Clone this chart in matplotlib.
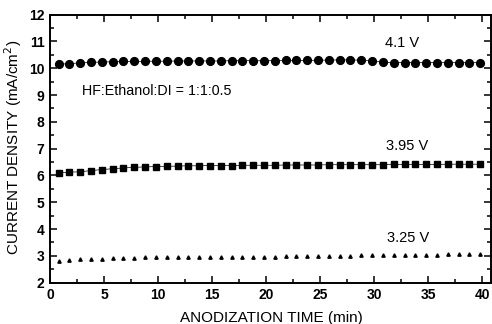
import matplotlib
matplotlib.use("Agg")
import matplotlib.pyplot as plt
from matplotlib.ticker import MultipleLocator

plt.rcParams["font.family"] = ["Liberation Sans", "DejaVu Sans"]

# anodization time (min), one reading per minute
time = [0.8, 1.8, 2.8, 3.8, 4.8, 5.8, 6.8, 7.8, 8.8, 9.8,
        10.8, 11.8, 12.8, 13.8, 14.8, 15.8, 16.8, 17.8, 18.8, 19.8,
        20.8, 21.8, 22.8, 23.8, 24.8, 25.8, 26.8, 27.8, 28.8, 29.8,
        30.8, 31.8, 32.8, 33.8, 34.8, 35.8, 36.8, 37.8, 38.8, 39.8]

j_410 = [10.15, 10.17, 10.20, 10.22, 10.23, 10.24, 10.25, 10.25, 10.26, 10.26,
         10.26, 10.27, 10.27, 10.27, 10.27, 10.27, 10.28, 10.28, 10.28, 10.28,
         10.28, 10.29, 10.29, 10.29, 10.30, 10.30, 10.31, 10.31, 10.30, 10.28,
         10.22, 10.21, 10.21, 10.21, 10.21, 10.21, 10.21, 10.21, 10.21, 10.21]

j_395 = [6.10, 6.12, 6.14, 6.18, 6.22, 6.25, 6.28, 6.30, 6.32, 6.33,
         6.34, 6.35, 6.36, 6.36, 6.37, 6.37, 6.37, 6.38, 6.38, 6.38,
         6.38, 6.39, 6.39, 6.39, 6.39, 6.40, 6.40, 6.40, 6.40, 6.40,
         6.40, 6.41, 6.41, 6.41, 6.41, 6.41, 6.42, 6.42, 6.42, 6.42]

j_325 = [2.80, 2.84, 2.87, 2.88, 2.90, 2.91, 2.92, 2.93, 2.94, 2.94,
         2.95, 2.95, 2.95, 2.96, 2.96, 2.96, 2.96, 2.97, 2.97, 2.97,
         2.97, 2.98, 2.98, 2.99, 3.00, 3.00, 3.01, 3.01, 3.02, 3.02,
         3.02, 3.03, 3.03, 3.04, 3.05, 3.05, 3.06, 3.07, 3.07, 3.08]

fig = plt.figure(figsize=(4.92, 3.24), dpi=100)
ax = fig.add_axes([0.1016, 0.1275, 0.8964, 0.8275])

ax.plot(time, j_410, "-o", color="black", lw=0.5, ms=5.6)
ax.plot(time, j_395, "-s", color="black", lw=0.5, ms=5.0)
ax.plot(time, j_325, "^", color="black", ms=2.4, lw=0)

txt = dict(fontsize=10.5, ha="center", va="center")
ax.text(32.6, 10.93, "4.1 V", **txt)
ax.text(33.0, 7.08, "3.95 V", **txt)
ax.text(33.1, 3.66, "3.25 V", **txt)
ax.text(3.0, 9.16, "HF:Ethanol:DI = 1:1:0.5", fontsize=10.3, ha="left", va="center")

ax.set_xlim(0, 40.8)
ax.set_ylim(2, 12)
ax.xaxis.set_major_locator(MultipleLocator(5))
ax.xaxis.set_minor_locator(MultipleLocator(2.5))
ax.yaxis.set_major_locator(MultipleLocator(1))
ax.yaxis.set_minor_locator(MultipleLocator(0.5))
ax.tick_params(which="both", direction="in", top=True, right=True, width=1.1)
ax.tick_params(which="major", length=5, labelsize=10, pad=4)
ax.tick_params(which="minor", length=3)
for lab in ax.get_xticklabels() + ax.get_yticklabels():
    lab.set_fontweight("bold")
for sp in ax.spines.values():
    sp.set_linewidth(1.4)

ax.set_xlabel("ANODIZATION TIME (min)", fontsize=11)
ax.set_ylabel("CURRENT DENSITY (mA/cm$^2$)", fontsize=11)
ax.xaxis.set_label_coords(0.501, -0.105)
ax.yaxis.set_label_coords(-0.058, 0.506)

fig.savefig("out.png", dpi=100)
